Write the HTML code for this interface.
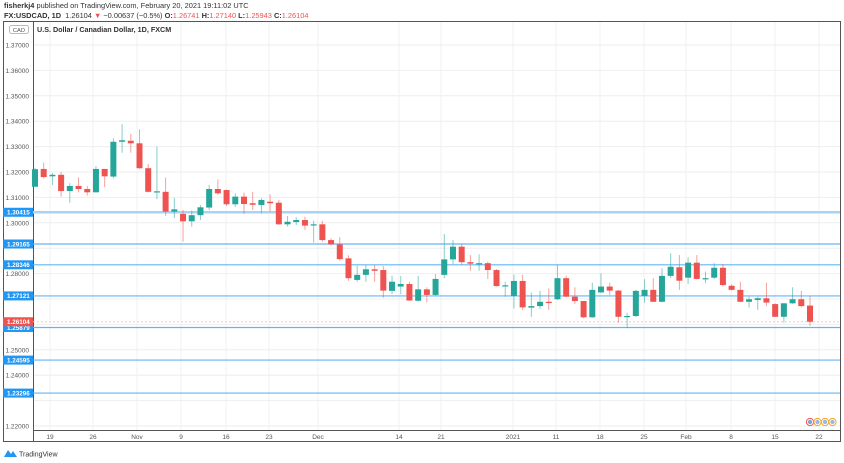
<!DOCTYPE html>
<html><head><meta charset="utf-8"><style>
html,body{margin:0;padding:0;background:#fff;width:844px;height:463px;overflow:hidden;font-family:"Liberation Sans",sans-serif}
.hdr{position:absolute;left:4px;font-size:7.4px;color:#333;white-space:nowrap}
.red{color:#ef5350}
</style></head><body>
<div class="hdr" style="top:1px"><b>fisherkj4</b> published on TradingView.com, February 20, 2021 19:11:02 UTC</div>
<div class="hdr" style="top:11px"><b>FX:USDCAD, 1D</b>&nbsp; 1.26104 <span class="red">▼</span> −0.00637 (−0.5%) <b>O:</b><span class="red">1.26741</span> <b>H:</b><span class="red">1.27140</span> <b>L:</b><span class="red">1.25943</span> <b>C:</b><span class="red">1.26104</span></div>
<svg id="chart" width="844" height="463" style="position:absolute;left:0;top:0"></svg>
<script>
const categories=['19','26','Nov','9','16','23','Dec','14','21','2021','11','18','25','Feb','8','15','22'];
const categoryX=[50,93,137,181,226,269,318,399,441,513,556,600,644,686,731,775,819];
const yTicks=[1.37,1.36,1.35,1.34,1.33,1.32,1.31,1.30,1.29,1.28,1.27,1.26,1.25,1.24,1.23,1.22];
const levels=[1.30415,1.29165,1.28346,1.27121,1.25879,1.24595,1.23296];
const lastPrice=1.26104;
const opens=[1.3142,1.3212,1.3183,1.3189,1.3125,1.3145,1.3133,1.3120,1.3212,1.3182,1.3319,1.3323,1.3313,1.3215,1.3122,1.3122,1.3044,1.3035,1.3006,1.3030,1.3060,1.3133,1.3129,1.3073,1.3103,1.3077,1.3070,1.3083,1.3079,1.2994,1.3003,1.3011,1.2993,1.2994,1.2932,1.2915,1.2860,1.2775,1.2795,1.2817,1.2814,1.2732,1.2749,1.2759,1.2693,1.2738,1.2716,1.2795,1.2856,1.2906,1.2845,1.2839,1.2841,1.2814,1.2752,1.2712,1.2771,1.2666,1.2672,1.2689,1.2699,1.2782,1.2709,1.2692,1.2628,1.2726,1.2749,1.2733,1.2632,1.2633,1.2712,1.2736,1.2689,1.2791,1.2825,1.2784,1.2843,1.2781,1.2784,1.2823,1.2752,1.2736,1.2689,1.2696,1.2703,1.2680,1.2630,1.2683,1.2699,1.26741];
const highs=[1.3216,1.3237,1.3196,1.3201,1.3156,1.3179,1.3145,1.3224,1.3212,1.3333,1.3388,1.3350,1.3368,1.3232,1.3300,1.3178,1.3098,1.3050,1.3048,1.3070,1.3149,1.3171,1.3131,1.3116,1.3119,1.3122,1.3097,1.3112,1.3090,1.3027,1.3022,1.3024,1.3008,1.3008,1.2939,1.2943,1.2872,1.2831,1.2834,1.2834,1.2830,1.2792,1.2791,1.2768,1.2791,1.2746,1.2798,1.2956,1.2932,1.2917,1.2873,1.2876,1.2847,1.2818,1.2768,1.2797,1.2795,1.2725,1.2732,1.2742,1.2834,1.2792,1.2746,1.2692,1.2764,1.2801,1.2764,1.2736,1.2646,1.2736,1.2778,1.2782,1.2821,1.2880,1.2873,1.2864,1.2873,1.2808,1.2841,1.2838,1.2758,1.2768,1.2709,1.2709,1.2764,1.2683,1.2685,1.2746,1.2732,1.27140];
const lows=[1.3141,1.3175,1.3149,1.3103,1.3079,1.3120,1.3107,1.3120,1.3141,1.3175,1.3276,1.3276,1.3212,1.3120,1.3093,1.3027,1.3018,1.2926,1.2985,1.3011,1.3050,1.3110,1.3066,1.3063,1.3035,1.3050,1.3037,1.3044,1.2992,1.2985,1.2991,1.2972,1.2922,1.2926,1.2910,1.2851,1.2772,1.2768,1.2768,1.2768,1.2705,1.2719,1.2719,1.2693,1.2690,1.2687,1.2712,1.2782,1.2837,1.2834,1.2811,1.2811,1.2779,1.2749,1.2709,1.2663,1.2657,1.2630,1.2661,1.2657,1.2696,1.2707,1.2680,1.2624,1.2626,1.2723,1.2716,1.2607,1.2585,1.2629,1.2685,1.2688,1.2687,1.2782,1.2736,1.2759,1.2777,1.2762,1.2779,1.2749,1.2733,1.2688,1.2666,1.2657,1.2672,1.2629,1.2607,1.2681,1.2667,1.25943];
const closes=[1.3211,1.3180,1.3189,1.3125,1.3145,1.3133,1.3120,1.3212,1.3183,1.3319,1.3325,1.3313,1.3215,1.3122,1.3124,1.3044,1.3053,1.3006,1.3030,1.3061,1.3133,1.3116,1.3073,1.3103,1.3074,1.3071,1.3090,1.3077,1.2994,1.3004,1.3011,1.2989,1.2994,1.2932,1.2915,1.2857,1.2782,1.2795,1.2817,1.2811,1.2733,1.2768,1.2759,1.2694,1.2738,1.2716,1.2779,1.2856,1.2906,1.2845,1.2839,1.2841,1.2814,1.2751,1.2754,1.2771,1.2667,1.2672,1.2689,1.2684,1.2782,1.2709,1.2692,1.2628,1.2736,1.2749,1.2733,1.2630,1.2633,1.2732,1.2736,1.2689,1.2791,1.2827,1.2772,1.2843,1.2779,1.2782,1.2823,1.2755,1.2736,1.2689,1.2699,1.2703,1.2686,1.2630,1.2683,1.2699,1.2672,1.26104];

const NS='http://www.w3.org/2000/svg';
const svg=document.getElementById('chart');
const X0=35, STEP=(810-35)/89;
function xScale(i){return X0+i*STEP;}
function yScale(p){return 45+(1.37-p)*2540;}
function mk(tag,attrs,parent){const e=document.createElementNS(NS,tag);for(const k in attrs)e.setAttribute(k,attrs[k]);(parent||svg).appendChild(e);return e;}

let frame=mk('rect',{x:3.5,y:21.5,width:837,height:420,fill:'#fff',stroke:'#555','stroke-width':1});


const tagYs=levels.concat([lastPrice]).map(yScale);
yTicks.forEach(v=>{const y=yScale(v);
 let g=mk('line',{x1:33,x2:840,y1:y,y2:y,stroke:'#eeeeee','stroke-width':1});
 
 
 if(tagYs.some(ty=>Math.abs(ty-y)<8))return;
 let t=mk('text',{x:29,y:y+2.5,'font-size':'6.5','text-anchor':'end',fill:'#555'});
 t.textContent=v.toFixed(5);
 
 
});
categories.forEach((c,i)=>{const x=categoryX[i];
 let g=mk('line',{x1:x,x2:x,y1:22,y2:430,stroke:'#f0f0f0','stroke-width':1});
 
 
 let t=mk('text',{x:x,y:439,'font-size':'6.5','text-anchor':'middle',fill:'#555'});
 t.textContent=c;
 
 
});
let ax=mk('line',{x1:33.5,x2:33.5,y1:22,y2:442,stroke:'#555','stroke-width':1});


let bx=mk('line',{x1:33,x2:841,y1:430.5,y2:430.5,stroke:'#555','stroke-width':1});



let lp=mk('line',{x1:33,x2:840,y1:yScale(lastPrice),y2:yScale(lastPrice),stroke:'#f7c5c4','stroke-width':1,'stroke-dasharray':'2,2'});



levels.forEach((v,i)=>{const y=yScale(v);
 let l=mk('line',{x1:33,x2:840,y1:y,y2:y,stroke:i===0?'#a9d3f5':'#64b5f6','stroke-width':i===0?2.5:1.2});
 
 
 let r=mk('rect',{x:3,y:y-4.5,width:30,height:9,fill:'#2196f3'});
 
 
 let t=mk('text',{x:7,y:y+2.3,'font-size':'6.3','font-weight':'bold',fill:'#fff'});
 t.textContent=v.toFixed(5);
 
 
});

for(let i=0;i<opens.length;i++){
 const up=closes[i]>=opens[i];const col=up?'#26a69a':'#ef5350';
 const x=xScale(i);
 let w=mk('line',{x1:x,x2:x,y1:yScale(highs[i]),y2:yScale(lows[i]),stroke:col,'stroke-opacity':0.55,'stroke-width':1});
 
 
 const yt=yScale(Math.max(opens[i],closes[i])),yb=yScale(Math.min(opens[i],closes[i]));
 let b=mk('rect',{x:x-3,y:yt,width:6,height:Math.max(1.2,yb-yt),fill:col});
 
 
}

{const y=yScale(lastPrice);
 let r=mk('rect',{x:3,y:y-4.5,width:30,height:9,fill:'#ef5350'});
 
 
 let t=mk('text',{x:7,y:y+2.3,'font-size':'6.3','font-weight':'bold',fill:'#fff'});
 t.textContent=lastPrice.toFixed(5);
 
 
}
let cr=mk('rect',{x:9.5,y:25.5,width:19,height:8,rx:2,fill:'#fff',stroke:'#bbb'});


let ct=mk('text',{x:19,y:31.8,'font-size':'5.8','text-anchor':'middle',fill:'#555'});ct.textContent='CAD';


let tt=mk('text',{x:37,y:32,'font-size':'7.2','font-weight':'bold',fill:'#333'});tt.textContent='U.S. Dollar / Canadian Dollar, 1D, FXCM';


['#ef5350','#f5a623','#f5a623','#f5a623'].forEach((c,i)=>{
 let e=mk('circle',{cx:810+i*7.5,cy:422,r:3.6,fill:'#fff',stroke:c,'stroke-width':1});
 
 
 let f=mk('circle',{cx:810+i*7.5,cy:422,r:2.2,fill:i===0?'#7aa7d8':'#9cb9e0'});
 
 
});
let lg=mk('path',{d:'M4 457 L8 450 L11 454 L13 451 L17 457 Z',fill:'#2196f3'});


let lt=mk('text',{x:19,y:456.5,'font-size':'7','fill':'#333'});lt.textContent='TradingView';


</script>
</body></html>
